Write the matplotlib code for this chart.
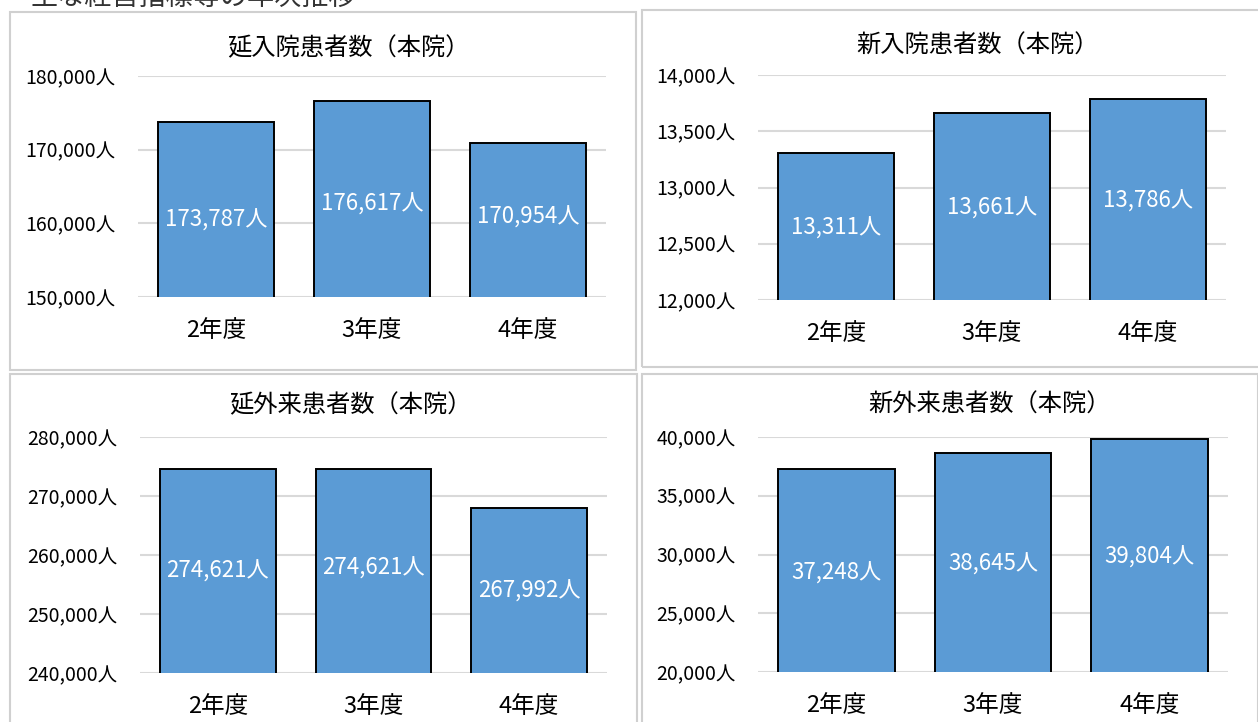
import matplotlib
matplotlib.use("Agg")
import matplotlib.pyplot as plt
from matplotlib.patches import Rectangle
from matplotlib.ticker import FuncFormatter

plt.rcParams['font.family'] = ['Noto Sans CJK JP', 'DejaVu Sans']

categories = ['2年度', '3年度', '4年度']

titles = ['延入院患者数（本院）', '新入院患者数（本院）', '延外来患者数（本院）', '新外来患者数（本院）']

inpatient_days = [173787, 176617, 170954]
new_inpatients = [13311, 13661, 13786]
outpatient_days = [274621, 274621, 267992]
new_outpatients = [37248, 38645, 39804]

ticks_inpatient_days = [150000, 160000, 170000, 180000]
ticks_new_inpatients = [12000, 12500, 13000, 13500, 14000]
ticks_outpatient_days = [240000, 250000, 260000, 270000, 280000]
ticks_new_outpatients = [20000, 25000, 30000, 35000, 40000]

header = '主な経営指標等の年次推移'

W, H = 1258, 722
fig = plt.figure(figsize=(W / 100, H / 100), dpi=100)

def fx(px):
    return px / W

def fy(py):
    return 1 - py / H

# panel frames (pixel boxes)
frames = [(10, 12, 636, 370), (642, 10, 1262, 367), (10, 374, 637, 730), (642, 374, 1258, 730)]
for x0, y0, x1, y1 in frames:
    fig.patches.append(Rectangle((fx(x0), fy(y1)), fx(x1) - fx(x0), fy(y0) - fy(y1),
                                 transform=fig.transFigure, fill=False,
                                 edgecolor='#d0d0d0', linewidth=1.5))

fig.text(fx(30), fy(-3), header, fontsize=19.5, color='#333333', va='center', ha='left')

# axes boxes: left px, top px, right px, bottom px
axes_boxes = [(138, 76, 606, 297), (758, 75, 1226, 300), (140, 437, 607, 673), (758, 437, 1228, 672)]
title_pos = [(348, 48), (978, 46), (350, 405), (990, 405)]
label_y = [[160450, 162620, 160860],
           [12640, 12818, 12880],
           [257290, 257800, 253900],
           [28425, 29190, 29790]]

series = [inpatient_days, new_inpatients, outpatient_days, new_outpatients]
ticks = [ticks_inpatient_days, ticks_new_inpatients, ticks_outpatient_days, ticks_new_outpatients]

for i in range(4):
    l, t, r, b = axes_boxes[i]
    ax = fig.add_axes([fx(l), fy(b), fx(r) - fx(l), fy(t) - fy(b)])
    vals = series[i]
    tk = ticks[i]
    xs = range(len(categories))
    ax.bar(xs, vals, width=0.745, color='#5b9bd5', edgecolor='black', linewidth=1.4, zorder=3)
    ax.set_ylim(tk[0], tk[-1])
    ax.set_xlim(-0.5, len(categories) - 0.5)
    ax.set_yticks(tk)
    ax.yaxis.set_major_formatter(FuncFormatter(lambda v, p: f'{int(v):,}人'))
    ax.set_xticks(list(xs))
    ax.set_xticklabels(categories, fontsize=17)
    ax.tick_params(axis='y', length=0, pad=16, labelsize=14)
    ax.tick_params(axis='x', length=0, pad=16)
    for s in ax.spines.values():
        s.set_visible(False)
    ax.grid(axis='y', color='#d9d9d9', linewidth=1.5, zorder=0)
    ax.set_axisbelow(True)
    for j, v in enumerate(vals):
        ax.text(j, label_y[i][j], f'{v:,}人', ha='center', va='center', color='white',
                fontsize=16, zorder=4)
    tx, ty = title_pos[i]
    fig.text(fx(tx), fy(ty), titles[i], ha='center', va='center', fontsize=17.5, color='black')

fig.savefig('out.png', dpi=100)
